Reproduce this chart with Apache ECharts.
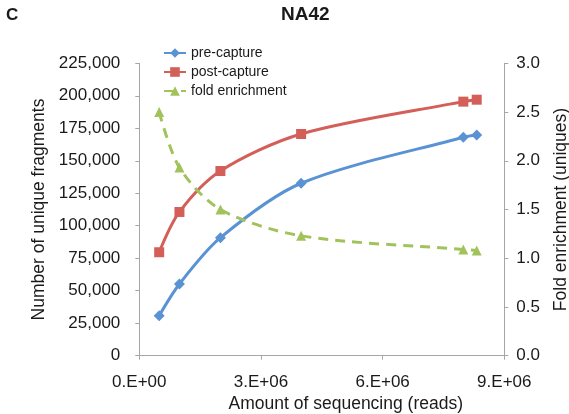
<!DOCTYPE html>
<html>
<head>
<meta charset="utf-8">
<script src="https://cdn.jsdelivr.net/npm/echarts@6/dist/echarts.min.js"></script>
<style>html,body{margin:0;padding:0;background:#fff}#c{width:569px;height:414px}</style>
</head>
<body>
<div id="c"></div>
<script>
const reads = [490000, 990000, 2000000, 3990000, 7990000, 8320000];
const preCapture = [30800, 55200, 90800, 132700, 168100, 169800];
const postCapture = [79600, 110600, 142100, 170600, 195500, 197000];
const foldEnrichment = [2.50, 1.93, 1.50, 1.23, 1.09, 1.08];
const seriesNames = ['pre-capture', 'post-capture', 'fold enrichment'];

const FONT = '"Liberation Sans", Arial, Helvetica, sans-serif';
const axisColor = '#a6a6a6';
const textColor = '#1a1a1a';
const pair = (xs, ys) => xs.map((x, i) => [x, ys[i]]);
const commas = v => String(v).replace(/\B(?=(\d{3})+(?!\d))/g, ',');

const chart = echarts.init(document.getElementById('c'), null, {renderer: 'canvas'});
chart.setOption({
  animation: false,
  textStyle: {fontFamily: FONT, color: textColor},
  title: [
    {text: 'C', left: 6, top: 7, padding: 0, textStyle: {fontFamily: FONT, fontSize: 17, fontWeight: 'bold', color: textColor}},
    {text: 'NA42', left: 281, top: 5, padding: 0, textStyle: {fontFamily: FONT, fontSize: 19, fontWeight: 'bold', color: textColor}}
  ],
  legend: {
    orient: 'vertical', left: 163, top: 46, padding: 0, itemWidth: 22, itemHeight: 12, itemGap: 5,
    textStyle: {fontFamily: FONT, fontSize: 14, color: textColor},
    data: seriesNames
  },
  grid: {left: 139.3, right: 64.7, top: 63.3, bottom: 58.3, containLabel: false, outerBoundsMode: 'none'},
  xAxis: {
    type: 'value', min: 0, max: 9000000, interval: 3000000,
    name: 'Amount of sequencing (reads)', nameLocation: 'middle', nameGap: 35,
    nameTextStyle: {fontFamily: FONT, fontSize: 17.5, color: textColor, padding: [0, 0, 0, 48]},
    axisLine: {lineStyle: {color: axisColor, width: 1}},
    axisTick: {show: true, inside: false, length: 4, lineStyle: {color: axisColor}},
    axisLabel: {fontFamily: FONT, fontSize: 17, color: textColor, margin: 18,
      formatter: v => (v / 1e6).toFixed(0) + '.E+' + (v === 0 ? '00' : '06')},
    splitLine: {show: false}
  },
  yAxis: [
    {
      type: 'value', min: 0, max: 225000, interval: 25000, position: 'left',
      name: 'Number of unique fragments', nameLocation: 'middle', nameGap: 91, nameRotate: 90,
      nameTextStyle: {fontFamily: FONT, fontSize: 17.5, color: textColor},
      axisLine: {show: true, lineStyle: {color: axisColor, width: 1}},
      axisTick: {show: true, inside: false, length: 4, lineStyle: {color: axisColor}},
      axisLabel: {fontFamily: FONT, fontSize: 17, color: textColor, margin: 19, formatter: v => commas(v)},
      splitLine: {show: false}
    },
    {
      type: 'value', min: 0, max: 3, interval: 0.5, position: 'right',
      name: 'Fold enrichment (uniques)', nameLocation: 'middle', nameGap: 48, nameRotate: 90,
      nameTextStyle: {fontFamily: FONT, fontSize: 17.5, color: textColor},
      axisLine: {show: true, lineStyle: {color: axisColor, width: 1}},
      axisTick: {show: true, inside: false, length: 4, lineStyle: {color: axisColor}},
      axisLabel: {fontFamily: FONT, fontSize: 17, color: textColor, margin: 12, formatter: v => v.toFixed(1)},
      splitLine: {show: false}
    }
  ],
  series: [
    {
      name: seriesNames[0], type: 'line', yAxisIndex: 0, data: pair(reads, preCapture),
      smooth: 0.3, symbol: 'diamond', symbolSize: 11,
      itemStyle: {color: '#5A93D3'}, lineStyle: {color: '#5A93D3', width: 3}
    },
    {
      name: seriesNames[1], type: 'line', yAxisIndex: 0, data: pair(reads, postCapture),
      smooth: 0.3, symbol: 'rect', symbolSize: 10,
      itemStyle: {color: '#D45E58'}, lineStyle: {color: '#D45E58', width: 3}
    },
    {
      name: seriesNames[2], type: 'line', yAxisIndex: 1, data: pair(reads, foldEnrichment),
      smooth: 0.3, symbol: 'triangle', symbolSize: 10,
      itemStyle: {color: '#A2C35B'}, lineStyle: {color: '#A2C35B', width: 3, type: [10, 7]}
    }
  ]
});
</script>
</body>
</html>
